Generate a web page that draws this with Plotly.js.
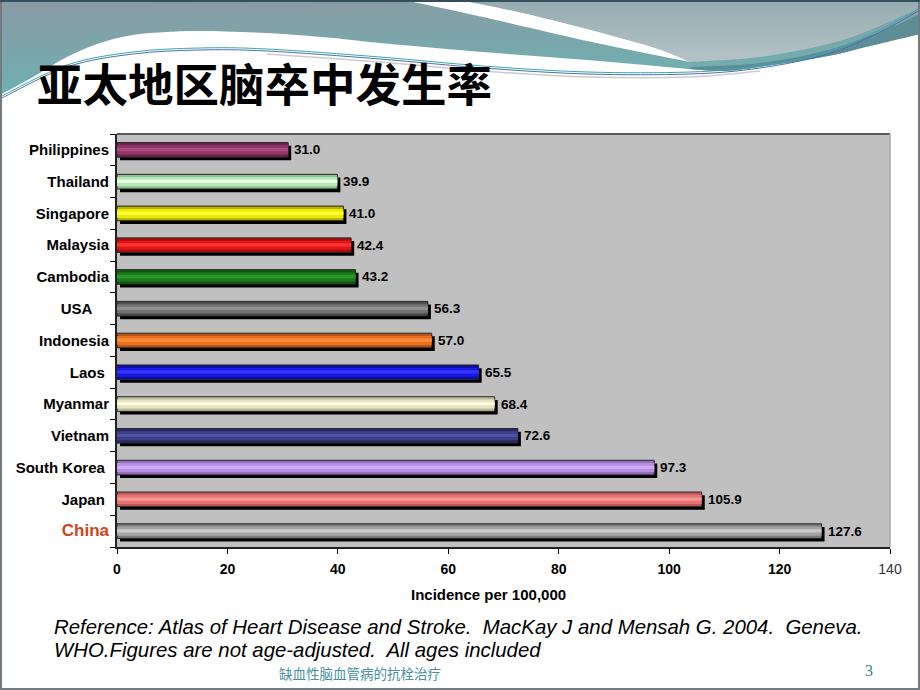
<!DOCTYPE html>
<html><head><meta charset="utf-8">
<script src="https://cdn.plot.ly/plotly-3.0.1.min.js"></script>
<style>
html,body{margin:0;padding:0;background:#fff;}
#wrap{position:relative;width:920px;height:690px;overflow:hidden;background:#fff;}
#bg{position:absolute;left:0;top:0;}
#chart{position:absolute;left:0;top:0;width:920px;height:690px;}
</style></head><body>
<div id="wrap">
<svg id="bg" width="920" height="690" xmlns="http://www.w3.org/2000/svg">
<defs>
<linearGradient id="gTeal" x1="0" y1="0" x2="0.25" y2="1">
<stop offset="0" stop-color="#8b9aa3"/><stop offset="1" stop-color="#6db1b2"/>
</linearGradient>
<linearGradient id="gGray" x1="0" y1="0" x2="0" y2="1">
<stop offset="0" stop-color="#95abb0"/><stop offset="1" stop-color="#b5c3c7"/>
</linearGradient>
</defs>
<path id="pTeal" fill="url(#gTeal)"/>
<path id="pGray" fill="url(#gGray)"/>
<path id="pWhite" fill="#ffffff"/>
<path id="pDark" fill="#5e8d96"/>
<path id="l3" fill="none" stroke="#cccccc" stroke-width="1.5"/>
<path id="l1" fill="none" stroke="#3aa8a2" stroke-width="1"/>
<path id="l2" fill="none" stroke="#4e6db3" stroke-width="1"/>
<rect x="1" y="1" width="918" height="688" fill="none" stroke="#727b80" stroke-width="2"/>
<line x1="0" y1="1" x2="920" y2="1" stroke="#34505c" stroke-width="2"/>
</svg>
<div id="chart"></div>
</div>
<script>
// ---------- data ----------
const countries = ['Philippines','Thailand','Singapore','Malaysia','Cambodia','USA','Indonesia','Laos','Myanmar','Vietnam','South Korea','Japan','China'];
const incidence = [31.0, 39.9, 41.0, 42.4, 43.2, 56.3, 57.0, 65.5, 68.4, 72.6, 97.3, 105.9, 127.6];
const xTickVals = [0, 20, 40, 60, 80, 100, 120, 140];
const xTickText = ['0', '20', '40', '60', '80', '100', '120', '140'];
const titleText = '亚太地区脑卒中发生率';
const xTitleText = 'Incidence per 100,000';
const refLine1 = 'Reference: Atlas of Heart Disease and Stroke.\u00a0 MacKay J and Mensah G. 2004.\u00a0 Geneva.';
const refLine2 = 'WHO.Figures are not age-adjusted.\u00a0 All ages included';
const footerText = '缺血性脑血管病的抗栓治疗';
const pageNum = '3';

// ---------- styles ----------
const darkColors  = ['#6e2452','#8fc08f','#b5b500','#a80c0c','#0f5a0f','#4e4e4e','#b8561a','#0c0ca0','#bcbc98','#2a2a66','#9470bc','#c05858','#7c7c7c'];
const baseColors  = ['#933668','#b6e8b6','#eaea00','#e21414','#1c7c1c','#727272','#e8701e','#1a1ae2','#e4e4c0','#3e3e8a','#b890e2','#e67272','#a4a4a4'];
const lightColors = ['#a84a7e','#e6ffe6','#ffff3a','#ff3636','#2a962a','#8e8e8e','#f68c3c','#3434ff','#fafae2','#5252a2','#d0aafa','#f49494','#cacaca'];
const labelPad = {'USA': 4, 'Laos': 1, 'South Korea': 1, 'Japan': 1};

// ---------- header decoration ----------
function smooth(pts, start){
  let d = start + pts[0][0] + ',' + pts[0][1];
  for (let i = 0; i < pts.length - 1; i++){
    const p0 = pts[i-1] || pts[i], p1 = pts[i], p2 = pts[i+1], p3 = pts[i+2] || p2;
    const c1 = [p1[0] + (p2[0]-p0[0])/6, p1[1] + (p2[1]-p0[1])/6];
    const c2 = [p2[0] - (p3[0]-p1[0])/6, p2[1] - (p3[1]-p1[1])/6];
    d += ' C' + c1.join(',') + ' ' + c2.join(',') + ' ' + p2.join(',');
  }
  return d;
}
const B = [[920,34],[870,46],[828,56],[759,67],[724,71],[690,69],[587,60],[483,52],[380,43],[333,38],[267,33],[200,31],[167,32],[133,35],[100,43],[67,57],[33,77],[0,95]];
document.getElementById('pTeal').setAttribute('d', 'M0,0 L920,0 ' + smooth(B,'L') + ' Z');
const G = [[920,8],[870,30],[828,44],[760,57],[690,62]];
const SL = [[690,62],[655,48],[587,29],[518,12],[459,0]];
const SU = [[404,0],[483,17],[587,41],[655,55],[690,62]];
document.getElementById('pGray').setAttribute('d', 'M459,0 L920,0 ' + smooth(G,'L') + ' ' + smooth(SL,'L') + ' Z');
document.getElementById('pWhite').setAttribute('d', smooth(SU,'M') + ' ' + smooth(SL,'L') + ' Z');
const DU = [[690,67],[760,63],[828,50],[880,32],[920,14]];
const DL = [[920,34],[870,46],[828,56],[759,67],[724,71],[690,69]];
document.getElementById('pDark').setAttribute('d', smooth(DU,'M') + ' ' + smooth(DL,'L') + ' Z');
const L = [[0,97],[67,65],[133,52],[200,48],[267,49],[380,57],[483,66],[587,72],[690,72],[760,66],[828,52],[880,30],[920,8]];
document.getElementById('l1').setAttribute('d', smooth(L,'M'));
document.getElementById('l2').setAttribute('d', smooth(L.map(p=>[p[0],p[1]+2]),'M'));
document.getElementById('l3').setAttribute('d', smooth(L.slice(4,10).map(p=>[p[0],p[1]+5]),'M'));

// ---------- chart ----------
const W = 0.46;
const common = {type:'bar', orientation:'h', y: countries, x: incidence, hoverinfo:'skip', showlegend:false};
const traces = [
  Object.assign({}, common, {base: 0.55, width: W, offset: -W/2 + 0.1, marker:{color:'#000000'}}),
  Object.assign({}, common, {width: W, offset: -W/2, marker:{color: darkColors, line:{color:'#262626', width:1}}}),
  Object.assign({}, common, {width: W*0.62, offset: -W*0.31, marker:{color: baseColors}}),
  Object.assign({}, common, {width: W*0.22, offset: -W*0.13, marker:{color: lightColors}})
];

const ML = 117, MR = 890, MT = 134, MB = 547;
const px = x => (x - ML) / (MR - ML);
const py = y => (MB - y) / (MB - MT);

const yTickText = countries.map(c => {
  if (c === 'China') return '<span style="color:#d2441c;font-size:17px;font-weight:bold">China</span>';
  return '<b>' + c + '</b>' + '\u00a0'.repeat(labelPad[c] || 0);
});
const xTickTextFmt = xTickText.map((t, i) => i === xTickText.length - 1 ? '<span style="color:#333">' + t + '</span>' : '<b>' + t + '</b>');

const annotations = incidence.map((v, i) => ({
  x: v, y: countries[i], xref:'x', yref:'y', text: '<b>' + v.toFixed(1) + '</b>',
  showarrow:false, xanchor:'left', yanchor:'middle', xshift: 4,
  font:{family:'Liberation Sans, Arial, sans-serif', size:13.5, color:'#000'}
}));
const fixed = (text, x, y, opts) => Object.assign({text, x: px(x), y: py(y), xref:'paper', yref:'paper', showarrow:false, yanchor:'middle'}, opts);
annotations.push(
  fixed(xTitleText, 488, 594, {xanchor:'center', text:'<b>' + xTitleText + '</b>', font:{family:'Liberation Sans, Arial, sans-serif', size:15, color:'#000'}}),
  fixed(titleText, 35, 82, {xanchor:'left', text:'<b>' + titleText + '</b>', font:{family:'Noto Sans CJK SC, sans-serif', size:45.5, color:'#000'}}),
  fixed(refLine1, 52, 627, {xanchor:'left', text:'<i>' + refLine1 + '</i>', font:{family:'Liberation Sans, Arial, sans-serif', size:20.4, color:'#000'}}),
  fixed(refLine2, 52, 650, {xanchor:'left', text:'<i>' + refLine2 + '</i>', font:{family:'Liberation Sans, Arial, sans-serif', size:20.4, color:'#000'}}),
  fixed(footerText, 360, 673, {xanchor:'center', font:{family:'Noto Sans CJK SC, sans-serif', size:13.5, color:'#4a8fa3'}}),
  fixed(pageNum, 869, 670, {xanchor:'center', font:{family:'Liberation Serif, serif', size:16, color:'#3a7f95'}})
);

const layout = {
  width: 920, height: 690,
  margin: {l: ML, r: 920 - MR, t: MT, b: 690 - MB, pad: 0},
  paper_bgcolor: 'rgba(0,0,0,0)', plot_bgcolor: '#c0c0c0',
  barmode: 'overlay', showlegend: false,
  xaxis: {range:[0,140], tickvals: xTickVals, ticktext: xTickTextFmt, ticks:'outside', ticklen:5, tickwidth:1, tickcolor:'#000',
          ticklabelstandoff: 3,
          showline:true, linecolor:'#222', linewidth:2, showgrid:false, zeroline:false, fixedrange:true,
          tickfont:{family:'Liberation Sans, Arial, sans-serif', size:14, color:'#000'}},
  yaxis: {type:'category', range:[12.5,-0.5], tickvals: countries, ticktext: yTickText, tickson:'boundaries', ticks:'outside', ticklen:5, tickwidth:1, tickcolor:'#000',
          ticklabelstandoff: 3,
          showline:true, linecolor:'#222', linewidth:2, showgrid:false, zeroline:false, fixedrange:true,
          tickfont:{family:'Liberation Sans, Arial, sans-serif', size:15, color:'#000'}},
  shapes: [
    {type:'line', xref:'paper', yref:'paper', x0:0, x1:1, y0:1, y1:1, line:{color:'#5a5a5a', width:2}},
    {type:'line', xref:'paper', yref:'paper', x0:1, x1:1, y0:0, y1:1, line:{color:'#a8a8a8', width:1.5}}
  ],
  annotations: annotations
};
Plotly.newPlot('chart', traces, layout, {displayModeBar:false, staticPlot:true});
</script>
</body></html>
